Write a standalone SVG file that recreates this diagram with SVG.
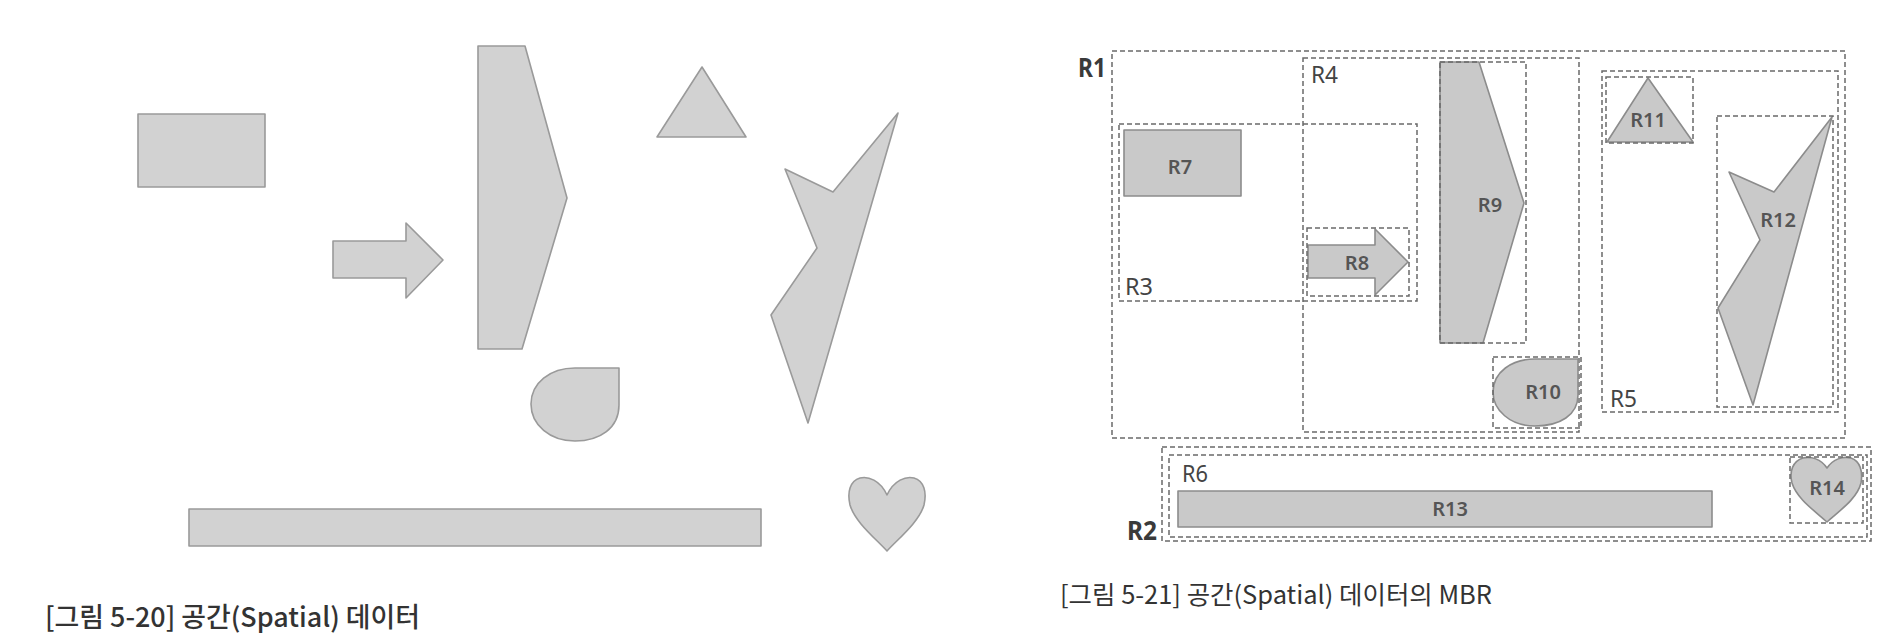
<svg xmlns="http://www.w3.org/2000/svg" width="1890" height="637" viewBox="0 0 1890 637">
<style>
.shape{fill:#d2d2d2;stroke:#9a9a9a;stroke-width:1.6;stroke-linejoin:round}
.shp2{fill:#c9c9c9;stroke:#8c8c8c;stroke-width:1.6;stroke-linejoin:round}
.mbr{fill:none;stroke:#6a6a6a;stroke-width:1.5;stroke-dasharray:5 3}
.lbl{font-family:"Noto Sans","Open Sans",sans-serif;font-size:20px;font-weight:600;fill:#555;text-anchor:middle}
.nlbl{font-family:"Noto Sans","Open Sans",sans-serif;font-size:23px;fill:#444}
.blbl{font-family:"Noto Sans","Open Sans",sans-serif;font-size:26px;font-weight:700;fill:#3a3a3a}
.cap{font-family:"Noto Sans CJK KR","Noto Sans",sans-serif;fill:#333}
</style>
<rect width="1890" height="637" fill="#fff"/>

<!-- Left figure: spatial data -->
<g id="left-rect"><rect class="shape" x="138" y="114" width="127" height="73"/></g>
<g id="left-arrow"><polygon class="shape" points="333,241 406,241 406,223 443,260 406,298 406,278 333,278"/></g>
<g id="left-pentagon"><polygon class="shape" points="478,46 525,46 567,198 522,349 478,349"/></g>
<g id="left-triangle"><polygon class="shape" points="702,67 746,137 657,137"/></g>
<g id="left-star"><polygon class="shape" points="898,113 833,192 785,169 817,248 771,315 808,423"/></g>
<g id="left-drop"><path class="shape" d="M575 368 L619 368 L619 405 C619 428 600 441 575 441 C550 441 531 425 531 404 C531 383 550 368 575 368 Z"/></g>
<g id="left-bar"><rect class="shape" x="189" y="509" width="572" height="37"/></g>
<g id="left-heart"><path class="shape" d="M887 495 C880 480 868 476 860 478 C850 481 847 492 850 505 C855 522 875 538 887 551 C899 538 919 522 924 505 C927 492 924 481 914 478 C906 476 894 480 887 495 Z"/></g>
<text class="cap" x="45" y="627" font-size="27" font-weight="500" textLength="375" lengthAdjust="spacingAndGlyphs">[그림 5-20] 공간(Spatial) 데이터</text>

<!-- Right figure: MBRs -->
<g id="R1"><rect class="mbr" x="1112" y="51" width="733" height="387"/><text class="blbl" x="1078" y="77" textLength="28" lengthAdjust="spacingAndGlyphs">R1</text></g>
<g id="R2"><rect class="mbr" x="1162" y="447" width="709" height="94"/><text class="blbl" x="1127" y="540" textLength="30" lengthAdjust="spacingAndGlyphs">R2</text></g>
<g id="R3"><rect class="mbr" x="1119" y="124" width="298" height="177"/><text class="nlbl" x="1125" y="295" textLength="28" lengthAdjust="spacingAndGlyphs">R3</text></g>
<g id="R4"><rect class="mbr" x="1303" y="58" width="276" height="374"/><text class="nlbl" x="1311" y="83" textLength="27" lengthAdjust="spacingAndGlyphs">R4</text></g>
<g id="R5"><rect class="mbr" x="1602" y="71" width="236" height="341"/><text class="nlbl" x="1610" y="407" textLength="27" lengthAdjust="spacingAndGlyphs">R5</text></g>
<g id="R6"><rect class="mbr" x="1169" y="455" width="698" height="82"/><text class="nlbl" x="1182" y="482" textLength="26" lengthAdjust="spacingAndGlyphs">R6</text></g>

<g id="R7"><rect class="shp2" x="1124" y="130" width="117" height="66"/><text class="lbl" x="1180" y="174">R7</text></g>
<g id="R8"><polygon class="shp2" points="1308,245 1375,245 1375,229 1408,262 1375,295 1375,278 1308,278"/><rect class="mbr" x="1307" y="228" width="102" height="68"/><text class="lbl" x="1357" y="270">R8</text></g>
<g id="R9"><polygon class="shp2" points="1440,62 1479,62 1524,203 1483,343 1440,343"/><rect class="mbr" x="1440" y="62" width="86" height="281"/><text class="lbl" x="1490" y="212">R9</text></g>
<g id="R10"><path class="shp2" d="M1535 359 L1578 359 L1578 395 C1578 415 1560 426 1535 426 C1510 426 1493 410 1493 392 C1493 372 1512 359 1535 359 Z"/><rect class="mbr" x="1493" y="357" width="88" height="71"/><text class="lbl" x="1543" y="399">R10</text></g>
<g id="R11"><polygon class="shp2" points="1648,78 1693,142 1607,142"/><rect class="mbr" x="1606" y="77" width="87" height="66"/><text class="lbl" x="1648" y="127">R11</text></g>
<g id="R12"><polygon class="shp2" points="1832,117 1774,192 1729,172 1760,240 1718,308 1753,405"/><rect class="mbr" x="1717" y="116" width="116" height="291"/><text class="lbl" x="1778" y="227">R12</text></g>
<g id="R13"><rect class="shp2" x="1178" y="491" width="534" height="36"/><text class="lbl" x="1450" y="516">R13</text></g>
<g id="R14"><path class="shp2" d="M1827 468 C1821 459 1811 456 1803 458 C1793 461 1789 471 1792 483 C1797 499 1815 511 1827 522 C1839 511 1857 499 1861 483 C1863 471 1860 461 1851 458 C1843 456 1833 459 1827 468 Z"/><rect class="mbr" x="1790" y="457" width="73" height="66"/><text class="lbl" x="1827" y="495">R14</text></g>
<text class="cap" x="1060" y="604" font-size="25" textLength="432" lengthAdjust="spacingAndGlyphs">[그림 5-21] 공간(Spatial) 데이터의 MBR</text>
</svg>
